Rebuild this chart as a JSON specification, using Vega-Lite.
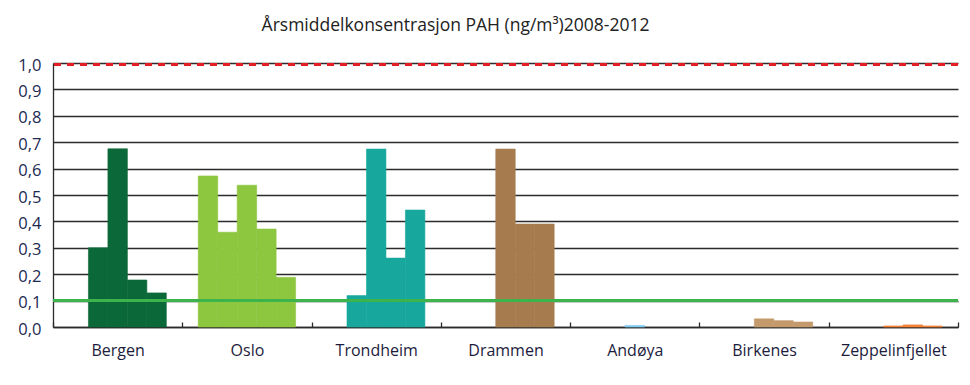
{
  "$schema": "https://vega.github.io/schema/vega-lite/v6.json",
  "width": 905,
  "height": 264,
  "autosize": {"type": "none"},
  "padding": {"left": 53, "top": 63, "right": 12, "bottom": 58},
  "background": "white",
  "title": {
    "text": "Årsmiddelkonsentrasjon PAH (ng/m³)2008-2012",
    "font": "Open Sans",
    "fontSize": 17.5,
    "fontWeight": "normal",
    "color": "#222222",
    "anchor": "middle",
    "dx": -50,
    "offset": 23
  },
  "config": {
    "view": {"stroke": null},
    "font": "Open Sans",
    "axisY": {
      "title": null,
      "labelOverlap": false,
      "labelFont": "Open Sans",
      "labelFontSize": 16.5,
      "labelColor": "#1c2a52",
      "labelOffset": 2,
      "ticks": false,
      "labelPadding": 12,
      "domainColor": "#2b2b2b",
      "domainWidth": 1.3,
      "grid": true,
      "gridColor": "#2b2b2b",
      "gridWidth": 1.3,
      "gridOpacity": 1
    }
  },
  "data": {
    "values": [
      {"stasjon": "Bergen", "år": "2009", "verdi": 0.30},
      {"stasjon": "Bergen", "år": "2010", "verdi": 0.675},
      {"stasjon": "Bergen", "år": "2011", "verdi": 0.178},
      {"stasjon": "Bergen", "år": "2012", "verdi": 0.129},
      {"stasjon": "Oslo", "år": "2008", "verdi": 0.572},
      {"stasjon": "Oslo", "år": "2009", "verdi": 0.359},
      {"stasjon": "Oslo", "år": "2010", "verdi": 0.537},
      {"stasjon": "Oslo", "år": "2011", "verdi": 0.371},
      {"stasjon": "Oslo", "år": "2012", "verdi": 0.188},
      {"stasjon": "Trondheim", "år": "2009", "verdi": 0.119},
      {"stasjon": "Trondheim", "år": "2010", "verdi": 0.674},
      {"stasjon": "Trondheim", "år": "2011", "verdi": 0.261},
      {"stasjon": "Trondheim", "år": "2012", "verdi": 0.443},
      {"stasjon": "Drammen", "år": "2010", "verdi": 0.674},
      {"stasjon": "Drammen", "år": "2011", "verdi": 0.39},
      {"stasjon": "Drammen", "år": "2012", "verdi": 0.39},
      {"stasjon": "Andøya", "år": "2010", "verdi": 0.006},
      {"stasjon": "Birkenes", "år": "2010", "verdi": 0.031},
      {"stasjon": "Birkenes", "år": "2011", "verdi": 0.024},
      {"stasjon": "Birkenes", "år": "2012", "verdi": 0.019},
      {"stasjon": "Zeppelinfjellet", "år": "2010", "verdi": 0.004},
      {"stasjon": "Zeppelinfjellet", "år": "2011", "verdi": 0.008},
      {"stasjon": "Zeppelinfjellet", "år": "2012", "verdi": 0.004}
    ]
  },
  "layer": [
    {
      "mark": {"type": "bar", "strokeWidth": 0.6},
      "encoding": {
        "x": {
          "field": "stasjon",
          "type": "nominal",
          "sort": ["Bergen", "Oslo", "Trondheim", "Drammen", "Andøya", "Birkenes", "Zeppelinfjellet"],
          "scale": {"paddingInner": 0, "paddingOuter": 0},
          "axis": {
            "title": null,
            "labelAngle": 0,
            "labelFont": "Open Sans",
            "labelFontSize": 16,
            "labelColor": "#1c1c3c",
            "domainColor": "#2b2b2b",
            "domainWidth": 1.3,
            "ticks": true,
            "tickBand": "extent",
            "tickSize": -5,
            "tickColor": "#2b2b2b",
            "tickWidth": 1.3,
            "labelPadding": 20,
            "grid": false
          }
        },
        "xOffset": {
          "field": "år",
          "type": "nominal",
          "scale": {"domain": ["2008", "2009", "2010", "2011", "2012"], "paddingInner": 0, "paddingOuter": 0.82}
        },
        "y": {
          "field": "verdi",
          "type": "quantitative",
          "scale": {"domain": [0, 1], "nice": false, "zero": true},
          "axis": {
            "values": [0, 0.1, 0.2, 0.3, 0.4, 0.5, 0.6, 0.7, 0.8, 0.9, 1.0],
            "labelExpr": "replace(format(datum.value, '.1f'), '.', ',')"
          }
        },
        "color": {
          "field": "stasjon",
          "type": "nominal",
          "legend": null,
          "scale": {
            "domain": ["Bergen", "Oslo", "Trondheim", "Drammen", "Andøya", "Birkenes", "Zeppelinfjellet"],
            "range": ["#0b6838", "#8dc63f", "#17a79d", "#a67c4f", "#7fcbef", "#c49a6c", "#f58235"]
          }
        },
        "stroke": {
          "field": "stasjon",
          "type": "nominal",
          "legend": null,
          "scale": {
            "domain": ["Bergen", "Oslo", "Trondheim", "Drammen", "Andøya", "Birkenes", "Zeppelinfjellet"],
            "range": ["#0b6838", "#8dc63f", "#17a79d", "#a67c4f", "#7fcbef", "#c49a6c", "#f58235"]
          }
        }
      }
    },
    {
      "mark": {"type": "rule", "color": "#3cb44b", "strokeWidth": 3},
      "encoding": {
        "y": {
          "datum": 0.1,
          "type": "quantitative",
          "axis": {
            "values": [0, 0.1, 0.2, 0.3, 0.4, 0.5, 0.6, 0.7, 0.8, 0.9, 1.0],
            "labelExpr": "replace(format(datum.value, '.1f'), '.', ',')"
          }
        }
      }
    },
    {
      "mark": {"type": "rule", "color": "#e31e24", "strokeWidth": 2.2, "strokeDash": [7, 6]},
      "encoding": {
        "y": {
          "datum": 0.993,
          "type": "quantitative",
          "axis": {
            "values": [0, 0.1, 0.2, 0.3, 0.4, 0.5, 0.6, 0.7, 0.8, 0.9, 1.0],
            "labelExpr": "replace(format(datum.value, '.1f'), '.', ',')"
          }
        }
      }
    }
  ]
}
